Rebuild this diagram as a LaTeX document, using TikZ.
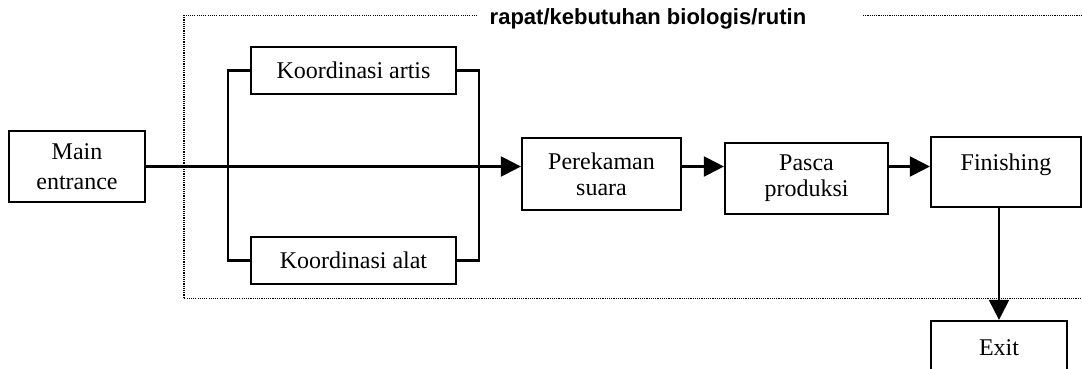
\documentclass[tikz,border=0pt]{standalone}
\usepackage{fontspec}
\setmainfont{Liberation Serif}
\newfontfamily\titlefont{Liberation Sans}
\usetikzlibrary{arrows.meta}
\begin{document}
\begin{tikzpicture}[x=1pt,y=-1pt,
  box/.style={draw, line width=2.2pt, inner sep=0pt, align=center,
    font=\fontsize{24}{26}\selectfont},
  conn/.style={line width=2.2pt, -{Triangle[length=20pt,width=20pt]}},
  plain/.style={line width=2.2pt},
  dotline/.style={line width=1.8pt, dash pattern=on 1.1pt off 1.1pt}]
\useasboundingbox (0,0) rectangle (1082,369);
% dotted frame
\draw[dotline] (477,15.5) -- (184,15.5) -- (184,298.5) -- (1095,298.5);
\draw[dotline] (863,15.5) -- (1095,15.5);
\node[font=\titlefont\bfseries\fontsize{22}{26}\selectfont, anchor=base] (title) at (648,25) {rapat/kebutuhan biologis/rutin};
% boxes
\node[box, minimum width=136pt, minimum height=71pt, font=\fontsize{24}{30}\selectfont] (main) at (77,166.5) {Main\\entrance};
\node[box, minimum width=205pt, minimum height=47pt] (artis) at (353.5,70.5) {Koordinasi artis};
\node[box, minimum width=205pt, minimum height=47pt] (alat) at (353.5,260.5) {Koordinasi alat};
\node[box, minimum width=159pt, minimum height=72pt] (perek) at (601.5,174) {Perekaman\\suara};
\node[box, minimum width=163pt, minimum height=71pt] (pasca) at (806.5,178.5) {Pasca\\produksi};
\node[box, minimum width=150pt, minimum height=70pt] (finish) at (1006,172) {\raisebox{7pt}[\height][\depth]{Finishing}};
\node[box, minimum width=136pt, minimum height=50pt] (exit) at (999,346) {\raisebox{-2pt}[\height][\depth]{Exit}};
% brackets
\coordinate (bl) at (228,0);
\coordinate (br) at (479,0);
\draw[plain] (artis.west) -- (artis.west -| bl) -- (alat.west -| bl) -- (alat.west);
\draw[plain] (artis.east) -- (artis.east -| br) -- (alat.east -| br) -- (alat.east);
% connectors
\draw[conn] (main.east) -- (main.east -| perek.west);
\draw[conn] (perek.east |- main.east) -- (pasca.west |- main.east);
\draw[conn] (pasca.east |- main.east) -- (finish.west |- main.east);
\draw[conn] (exit.north |- finish.south) -- (exit.north);
\end{tikzpicture}
\end{document}
